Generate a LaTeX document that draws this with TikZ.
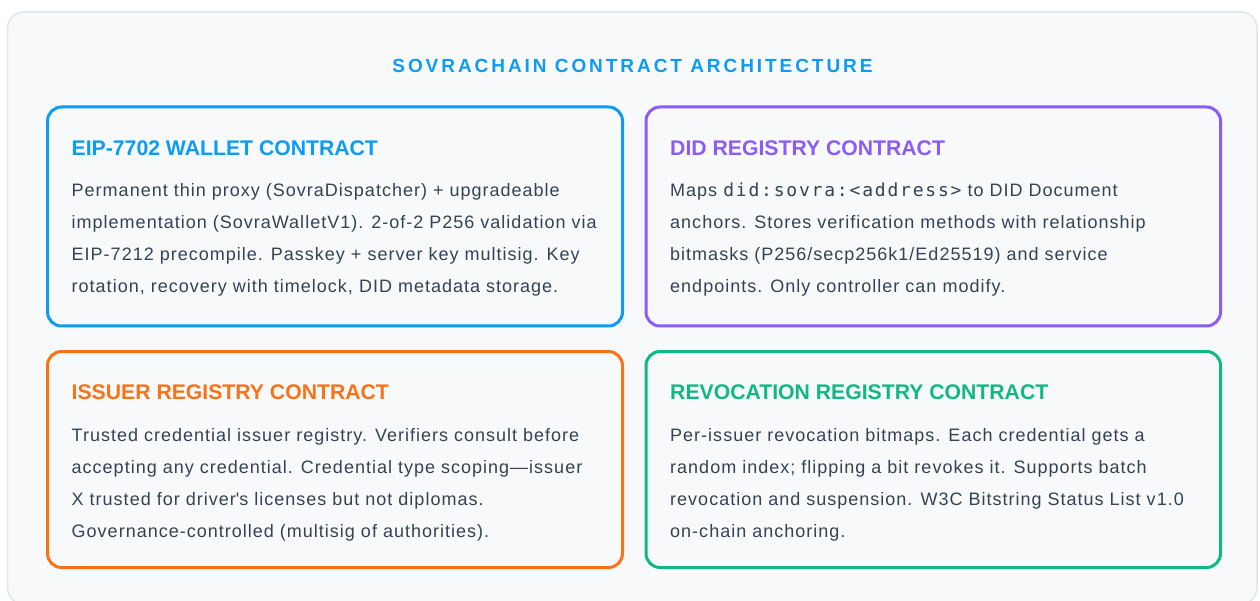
\documentclass[tikz,border=0pt]{standalone}
\usepackage{fontspec}
\setmainfont{Liberation Sans}
\setmonofont{DejaVu Sans Mono}[LetterSpace=10]

\definecolor{pageback}{HTML}{FFFFFF}
\definecolor{panelfill}{HTML}{F8F9FB}
\definecolor{panelline}{HTML}{E3E5E9}
\definecolor{bodytext}{HTML}{374151}
\definecolor{cblue}{HTML}{0D9BF3}
\definecolor{cpurple}{HTML}{8B5CF6}
\definecolor{corange}{HTML}{F97316}
\definecolor{cgreen}{HTML}{10B981}

% body text sits in one node per card; its base anchor is the last line's baseline
\tikzset{
  card/.style={draw=#1, line width=3pt, rounded corners=14pt, fill=panelfill},
  cardtitle/.style={text=#1, anchor=base west, inner sep=0pt,
    font=\fontsize{21.2}{24}\selectfont\bfseries},
  cardbody/.style={text=bodytext, anchor=base west, inner sep=0pt, align=left,
    font=\fontsize{18}{32}\selectfont\addfontfeature{LetterSpace=5.6}},
}

\begin{document}
\begin{tikzpicture}[x=1pt, y=-1pt]
  \useasboundingbox (0,0) rectangle (1260,601);
  \fill[pageback] (0,0) rectangle (1260,601);

  % outer panel
  \draw[panelline, line width=1.5pt, fill=panelfill, rounded corners=16pt]
    (7.5,12) rectangle (1257,604);

  % heading
  \node[text=cblue, inner sep=0pt, anchor=base,
        font=\fontsize{19}{22}\selectfont\bfseries\addfontfeature{LetterSpace=15.5}]
    (heading) at (632.5,72.5) {SOVRACHAIN CONTRACT ARCHITECTURE};

  % cards
  \draw[card=cblue]   (47.5,107) rectangle (622.5,326) coordinate (walletbox);
  \draw[card=cpurple] (646,107) rectangle (1220.5,326) coordinate (didbox);
  \draw[card=corange] (47.5,351.5) rectangle (622.5,567.5) coordinate (issuerbox);
  \draw[card=cgreen]  (646,351.5) rectangle (1220.5,567.5) coordinate (revbox);

  % wallet
  \node[cardtitle=cblue] (wallettitle) at (71.5,155.5) {EIP-7702 WALLET CONTRACT};
  \node[cardbody] (walletbody) at (71.5,292.5) {Permanent thin proxy (SovraDispatcher) + upgradeable\\
    implementation (SovraWalletV1). 2-of-2 P256 validation via\\
    EIP-7212 precompile. Passkey + server key multisig. Key\\
    rotation, recovery with timelock, DID metadata storage.};

  % did registry
  \node[cardtitle=cpurple] (didtitle) at (670,155.5) {DID REGISTRY CONTRACT};
  \node[cardbody] (didbody) at (670,293) {Maps {\fontsize{18}{32}\selectfont\ttfamily did:sovra:<address>} to DID Document\\
    anchors. Stores verification methods with relationship\\
    bitmasks (P256/secp256k1/Ed25519) and service\\
    endpoints. Only controller can modify.};

  % issuer registry
  \node[cardtitle=corange] (issuertitle) at (71.5,399.5) {ISSUER REGISTRY CONTRACT};
  \node[cardbody] (issuerbody) at (71.5,537) {Trusted credential issuer registry. Verifiers consult before\\
    accepting any credential. Credential type scoping—issuer\\
    X trusted for driver\textquotesingle s licenses but not diplomas.\\
    Governance-controlled (multisig of authorities).};

  % revocation registry
  \node[cardtitle=cgreen] (revtitle) at (670,399.5) {REVOCATION REGISTRY CONTRACT};
  \node[cardbody] (revbody) at (670,537) {Per-issuer revocation bitmaps. Each credential gets a\\
    random index; flipping a bit revokes it. Supports batch\\
    revocation and suspension. W3C Bitstring Status List v1.0\\
    on-chain anchoring.};
\end{tikzpicture}
\end{document}
